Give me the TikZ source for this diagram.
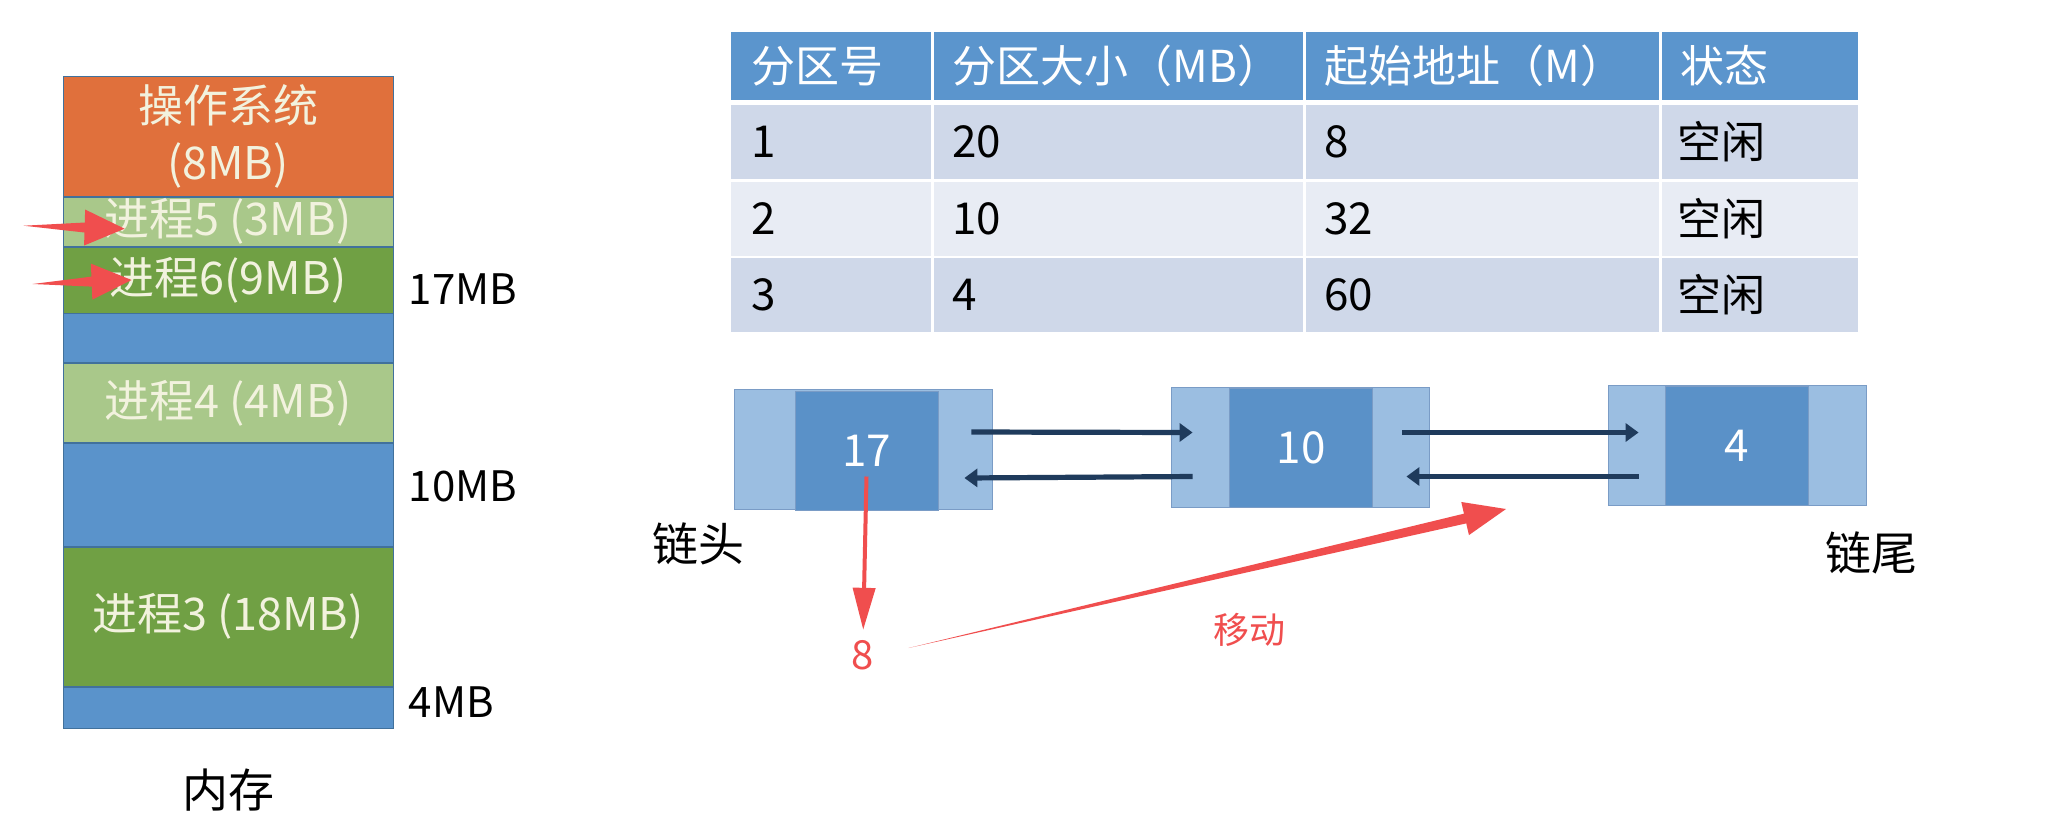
\documentclass[tikz,border=0pt]{standalone}
\usepackage{fontspec}
\setmainfont{Noto Sans CJK SC}
\usetikzlibrary{positioning,calc,arrows.meta}

\definecolor{osorange}{HTML}{E0703C}
\definecolor{lightgreen}{HTML}{A9C88A}
\definecolor{darkgreen}{HTML}{70A044}
\definecolor{memblue}{HTML}{5A93CB}
\definecolor{memtext}{HTML}{F2F2DE}
\definecolor{memline}{HTML}{41719C}
\definecolor{tablehead}{HTML}{5B95CD}
\definecolor{tableodd}{HTML}{CFD8E9}
\definecolor{tableeven}{HTML}{E8ECF4}
\definecolor{listlight}{HTML}{9BBEE1}
\definecolor{listdark}{HTML}{5A91C8}
\definecolor{listline}{HTML}{7A9CC6}
\definecolor{navy}{HTML}{1F3B5C}
\definecolor{redmark}{HTML}{F04E4E}

% tapered red arrow: from, to, half shaft, half head, head length
\newcommand\redtaper[5]{%
  \coordinate (tb) at ($(#2)!#5!(#1)$);
  \fill[redmark] (#1) -- ($(tb)!#3!90:(#2)$) -- ($(tb)!#4!90:(#2)$) -- (#2)
    -- ($(tb)!#4!-90:(#2)$) -- ($(tb)!#3!-90:(#2)$) -- cycle;}

\tikzset{
  memblock/.style={draw=memline, line width=0.4pt, minimum width=165pt, inner sep=0pt,
    text=memtext, font=\fontsize{22.5}{28.5}\selectfont, align=center},
  sizelabel/.style={anchor=west, inner sep=0pt, font=\fontsize{21}{25}\selectfont},
  headcell/.style={anchor=west, inner sep=0pt, text=white, font=\fontsize{22}{26}\selectfont},
  cell/.style={anchor=west, inner sep=0pt, text=black, font=\fontsize{22}{26}\selectfont},
  listouter/.style={draw=listline, fill=listlight, minimum width=129pt, minimum height=60pt, inner sep=0pt},
  listinner/.style={draw=listline, fill=listdark, minimum width=71.5pt, minimum height=59.5pt,
    inner sep=0pt, text=white, font=\fontsize{22}{26}\selectfont},
  link/.style={draw=navy, line width=2.6pt, -{Triangle[length=6.5pt,width=9pt]}},
  caption/.style={inner sep=0pt, font=\fontsize{23}{27}\selectfont},
  redtext/.style={inner sep=0pt, text=redmark}
}

\begin{document}
\begin{tikzpicture}[x=0.5pt,y=-0.5pt]
  \fill[white] (0,0) rectangle (2066,816);
  \useasboundingbox (0,0) rectangle (2066,816);

  % memory column
  \node[memblock, fill=osorange, minimum height=60pt, anchor=north] (os) at (228,76) {操作系统\\(8MB)};
  \node[memblock, fill=lightgreen, minimum height=24.5pt, below=0pt of os] (p5) {进程5 (3MB)};
  \node[memblock, fill=darkgreen, minimum height=33pt, below=0pt of p5] (p6) {进程6(9MB)};
  \node[memblock, fill=memblue, minimum height=24.5pt, below=0pt of p6] (free1) {};
  \node[memblock, fill=lightgreen, minimum height=39.5pt, below=0pt of free1] (p4) {进程4 (4MB)};
  \node[memblock, fill=memblue, minimum height=51.5pt, below=0pt of p4] (free2) {};
  \node[memblock, fill=darkgreen, minimum height=69.5pt, below=0pt of free2] (p3) {进程3 (18MB)};
  \node[memblock, fill=memblue, minimum height=20.5pt, below=0pt of p3] (free3) {};

  % sizes of the holes
  \node[sizelabel, right=7.5pt of p6, yshift=-4.5pt] (s17) {17MB};
  \node[sizelabel, right=7.5pt of free2, yshift=4.5pt] (s10) {10MB};
  \node[sizelabel, right=7.5pt of free3, yshift=2.5pt] (s4) {4MB};
  \node[caption, below=20pt of free3] (mem) {内存};

  % new processes coming in
  \coordinate (in5) at ([shift={(-19.5pt,-2pt)}]p5.west);
  \coordinate (to5) at ([shift={(31pt,-3.5pt)}]p5.west);
  \redtaper{in5}{to5}{2.5pt}{9pt}{20pt}
  \coordinate (in6) at ([shift={(-15pt,-2pt)}]p6.west);
  \coordinate (to6) at ([shift={(34.5pt,0pt)}]p6.west);
  \redtaper{in6}{to6}{2.5pt}{9pt}{20pt}

  % free partition table
  \foreach \top/\bot/\shade in {32/100/tablehead, 105/179/tableodd, 182/256/tableeven, 258/332/tableodd}
    \fill[\shade] (731,\top) rectangle (1858,\bot);
  \foreach \x in {932,1304,1660}
    \draw[white, line width=1.5pt] (\x,32) -- (\x,332);
  \foreach \x/\txt [count=\c] in {731/分区号, 932/分区大小（MB）, 1304/起始地址（M）, 1660/状态}
    \node[headcell] (h\c) at (\x+20,66) {\txt};
  \foreach \y/\a/\b/\s/\st [count=\r] in {142/1/20/8/空闲, 219/2/10/32/空闲, 295/3/4/60/空闲} {
    \node[cell] (c\r-1) at (751,\y) {\a};
    \node[cell] (c\r-2) at (952,\y) {\b};
    \node[cell] (c\r-3) at (1324,\y) {\s};
    \node[cell] (c\r-4) at (1677,\y) {\st};
  }

  % free partition chain
  \node[listouter] (o1) at (863,449) {};
  \node[listinner] (n1) at (866.5,450.5) {17};
  \node[listouter] (o2) at (1300,447.5) {};
  \node[listinner] (n2) at (1301,447.5) {10};
  \node[listouter] (o3) at (1737,445.5) {};
  \node[listinner] (n3) at (1736.5,445.5) {4};

  \draw[link] ([shift={(-10.5pt,8.5pt)}]o1.east) -- ([shift={(11pt,7.5pt)}]o2.west);
  \draw[link] ([shift={(11pt,-14.5pt)}]o2.west) -- ([shift={(-14pt,-14.5pt)}]o1.east);
  \draw[link] ([shift={(-13.5pt,7.5pt)}]o2.east) -- ([shift={(15.5pt,6.5pt)}]o3.west);
  \draw[link] ([shift={(15.5pt,-15.5pt)}]o3.west) -- ([shift={(-11.5pt,-14.5pt)}]o2.east);

  \node[caption] (head) at (698,544) {链头};
  \node[caption] (tail) at (1871,553) {链尾};

  % first hole shrinks to 8 and moves along the chain
  \node[redtext, font=\fontsize{20}{24}\selectfont] (eight) at (863,655) {8};
  \node[redtext, font=\fontsize{18}{22}\selectfont] (move) at (1249,630) {移动};
  \draw[redmark, line width=2pt, -{Triangle[length=21pt,width=11pt]}, shorten >=5pt]
    ([yshift=-13pt]n1.center) -- (eight.north);
  \coordinate (movefrom) at ([shift={(17pt,3.5pt)}]eight.east);
  \coordinate (moveto) at (1506,509);
  \redtaper{movefrom}{moveto}{2.5pt}{8.5pt}{21pt}
\end{tikzpicture}
\end{document}
